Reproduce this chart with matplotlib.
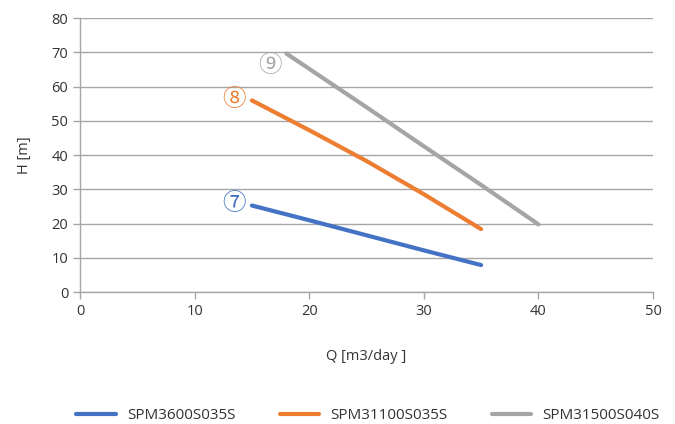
import matplotlib
matplotlib.use('Agg')
import matplotlib.pyplot as plt

plt.rcParams['font.family'] = ['Open Sans', 'DejaVu Sans', 'Noto Sans CJK JP']

# pump curves
q_3600 = [15, 20, 25, 30, 35]
h_3600 = [25.3, 21.0, 16.6, 12.2, 7.9]
q_31100 = [15, 20, 25, 30, 35]
h_31100 = [56.0, 47.3, 38.3, 28.6, 18.4]
q_31500 = [18, 25, 30, 35, 40]
h_31500 = [69.7, 54.0, 42.6, 31.3, 19.8]

names = ['SPM3600S035S', 'SPM31100S035S', 'SPM31500S040S']
colors = ['#4472C4', '#ED7D31', '#A5A5A5']
marks = ['\u2466', '\u2467', '\u2468']
mark_pos = [(13.4, 25.8), (13.4, 56.2), (16.6, 66.3)]

fig = plt.figure(figsize=(6.75, 4.24), dpi=100)
ax = fig.add_axes([0.1185, 0.311, 0.849, 0.646])

series = [(q_3600, h_3600), (q_31100, h_31100), (q_31500, h_31500)]
for (q, h), c, n in zip(series, colors, names):
    ax.plot(q, h, color=c, lw=3, label=n, solid_capstyle='round')

for m, (x, y), c in zip(marks, mark_pos, colors):
    ax.text(x, y, m, color=c, fontsize=17, ha='center', va='center',
            family=['Noto Sans CJK JP', 'DejaVu Sans'])

ax.set_xlim(0, 50)
ax.set_ylim(0, 80)
ax.set_xticks(range(0, 51, 10))
ax.set_yticks(range(0, 81, 10))
ax.grid(axis='y', color='#A6A6A6', lw=1)
ax.set_axisbelow(True)
for s in ['top', 'right']:
    ax.spines[s].set_visible(False)
for s in ['left', 'bottom']:
    ax.spines[s].set_color('#A6A6A6')
    ax.spines[s].set_linewidth(1)
ax.tick_params(colors='#A6A6A6', labelcolor='#333333', labelsize=10.5, length=5, width=1)

ax.set_xlabel('Q [m3/day ]', fontsize=10.5, color='#333333', labelpad=22)
ax.set_ylabel('H [m]', fontsize=10.5, color='#333333', labelpad=14)

fig.legend(loc='lower center', bbox_to_anchor=(0.545, -0.03), ncol=3, frameon=False,
           fontsize=11, handlelength=2.6, handletextpad=0.7, columnspacing=2.9,
           labelcolor='#333333')

fig.savefig('out.png', dpi=100)
